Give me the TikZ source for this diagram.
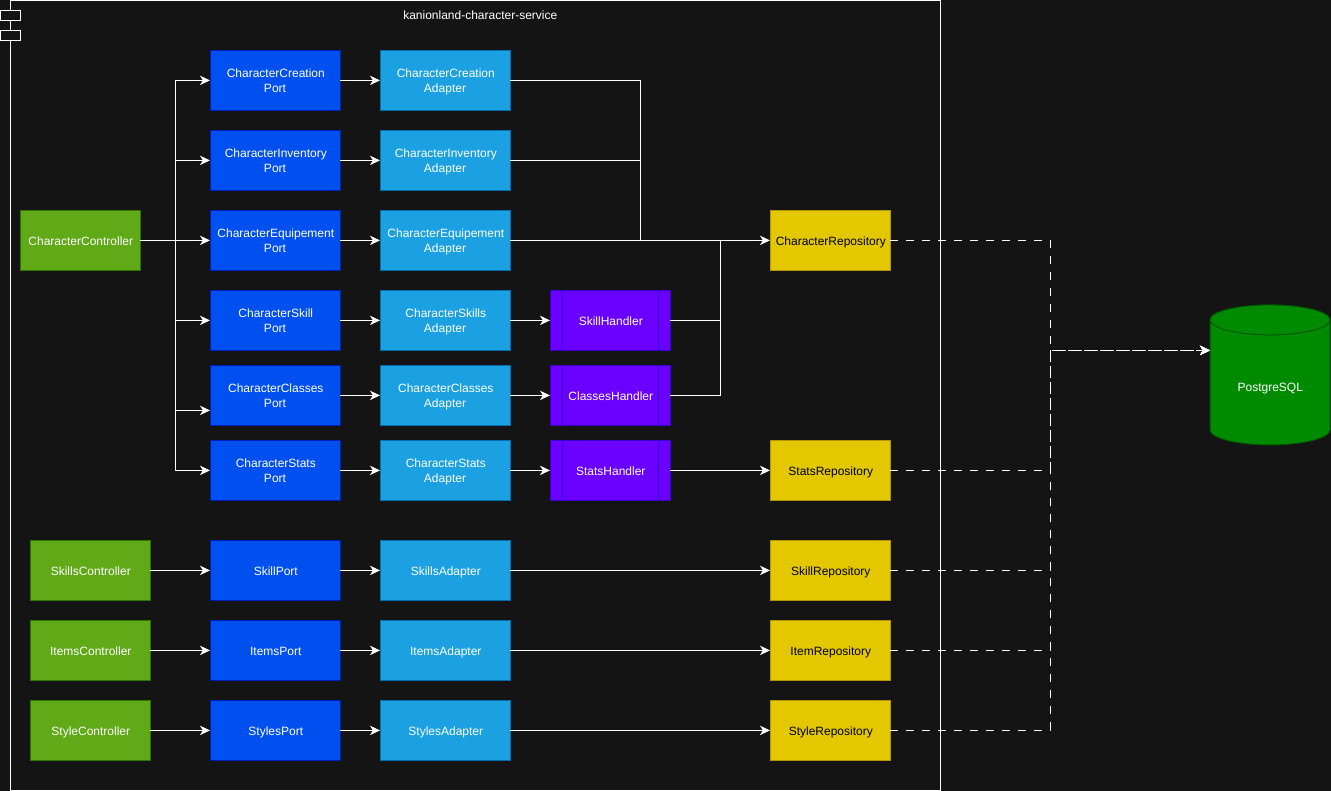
\documentclass[tikz,border=0pt]{standalone}
\usepackage{fontspec}
\setmainfont{Liberation Sans}
\usetikzlibrary{arrows.meta,calc}
\definecolor{bgc}{HTML}{141414}
\definecolor{portf}{HTML}{0050EF}\definecolor{portd}{HTML}{001DBC}
\definecolor{adf}{HTML}{1BA1E2}\definecolor{add}{HTML}{006EAF}
\definecolor{ctf}{HTML}{60A917}\definecolor{ctd}{HTML}{2D7600}
\definecolor{hdf}{HTML}{6A00FF}\definecolor{hdd}{HTML}{3700CC}
\definecolor{rpf}{HTML}{E3C800}\definecolor{rpd}{HTML}{B09500}
\definecolor{dbf}{HTML}{008A00}\definecolor{dbd}{HTML}{005700}
\tikzset{
  boxbase/.style={draw,line width=0.75pt,minimum height=45pt,outer sep=0pt,inner sep=0pt,
    font=\fontsize{9pt}{11.25pt}\selectfont,text=white,
    execute at begin node={\hspace*{1.2pt}\rule{0pt}{9.6pt}},
    execute at end node={\rule[-2pt]{0pt}{2pt}}},
  portbox/.style={boxbase,fill=portf,draw=portd,minimum width=97.5pt},
  adapterbox/.style={boxbase,fill=adf,draw=add,minimum width=97.5pt},
  ctrlbox/.style={boxbase,fill=ctf,draw=ctd,minimum width=90pt},
  handlerbox/.style={boxbase,fill=hdf,draw=hdd,minimum width=90pt},
  repobox/.style={boxbase,fill=rpf,draw=rpd,minimum width=90pt,text=black},
  conn/.style={draw=white,line width=0.75pt,-{Stealth[length=7.5pt,width=7pt,inset=2.2pt]}},
  plainconn/.style={draw=white,line width=0.75pt},
  dashconn/.style={draw=white,line width=0.75pt,dash pattern=on 6pt off 6pt,-{Stealth[length=7.5pt,width=7pt,inset=2.2pt]}},
  tabbox/.style={draw=white,line width=0.75pt,fill=bgc,minimum width=15pt,minimum height=7.5pt,outer sep=0pt,inner sep=0pt}
}
\newcommand{\handlerbars}[1]{\draw[hdd,line width=0.75pt] ($(#1.north west)+(9pt,0)$) -- ($(#1.south west)+(9pt,0)$) ($(#1.north east)+(-9pt,0)$) -- ($(#1.south east)+(-9pt,0)$);}
\newcommand{\twol}[2]{\hspace*{-1.2pt}\raisebox{-3.7pt}[12pt][12pt]{\begin{tabular}{@{}c@{}}\hspace*{1.2pt}#1\\#2\end{tabular}}}
\begin{document}
\begin{tikzpicture}[x=0.75pt,y=-0.75pt]
\useasboundingbox[fill=bgc] (0,-0.4) rectangle (1331,790.6);
% container
\node[draw=white,line width=0.75pt,fill=bgc,minimum width=697.5pt,minimum height=592.1pt,outer sep=0pt,inner sep=0pt] (svc) at (475,395.2) {};
\node[tabbox] (tabA) at (10,15) {};
\node[tabbox] (tabB) at (10,35) {};
\node[text=white,font=\fontsize{9pt}{11.25pt}\selectfont,inner sep=0pt] (title) at (480.3,14.8) {kanionland-character-service};
% controllers
\node[ctrlbox] (cc) at (80,240) {CharacterController};
\node[ctrlbox] (sc) at (90,570) {SkillsController};
\node[ctrlbox] (ic) at (90,650) {ItemsController};
\node[ctrlbox] (stc) at (90,730) {StyleController};
% ports
\node[portbox] (p1) at (275,80) {\twol{CharacterCreation}{Port}};
\node[portbox] (p2) at (275,160) {\twol{CharacterInventory}{Port}};
\node[portbox] (p3) at (275,240) {\twol{CharacterEquipement}{Port}};
\node[portbox] (p4) at (275,320) {\twol{CharacterSkill}{Port}};
\node[portbox] (p5) at (275,395) {\twol{CharacterClasses}{Port}};
\node[portbox] (p6) at (275,470) {\twol{CharacterStats}{Port}};
\node[portbox] (p7) at (275,570) {SkillPort};
\node[portbox] (p8) at (275,650) {ItemsPort};
\node[portbox] (p9) at (275,730) {StylesPort};
% adapters
\node[adapterbox] (a1) at (445,80) {\twol{CharacterCreation}{Adapter}};
\node[adapterbox] (a2) at (445,160) {\twol{CharacterInventory}{Adapter}};
\node[adapterbox] (a3) at (445,240) {\twol{CharacterEquipement}{Adapter}};
\node[adapterbox] (a4) at (445,320) {\twol{CharacterSkills}{Adapter}};
\node[adapterbox] (a5) at (445,395) {\twol{CharacterClasses}{Adapter}};
\node[adapterbox] (a6) at (445,470) {\twol{CharacterStats}{Adapter}};
\node[adapterbox] (a7) at (445,570) {SkillsAdapter};
\node[adapterbox] (a8) at (445,650) {ItemsAdapter};
\node[adapterbox] (a9) at (445,730) {StylesAdapter};
% handlers
\node[handlerbox] (h1) at (610,320) {SkillHandler};
\node[handlerbox] (h2) at (610,395) {ClassesHandler};
\node[handlerbox] (h3) at (610,470) {StatsHandler};
\handlerbars{h1}\handlerbars{h2}\handlerbars{h3}
% repositories
\node[repobox] (r1) at (830,240) {CharacterRepository};
\node[repobox] (r2) at (830,470) {StatsRepository};
\node[repobox] (r3) at (830,570) {SkillRepository};
\node[repobox] (r4) at (830,650) {ItemRepository};
\node[repobox] (r5) at (830,730) {StyleRepository};
% database (y axis points down: 180 to 360 is the upper arc)
\fill[dbf] (1210,319.5) arc[start angle=180,end angle=360,x radius=60,y radius=15] -- (1330,429.5) arc[start angle=0,end angle=180,x radius=60,y radius=15] -- cycle;
\draw[dbd,line width=0.75pt] (1210,319.5) arc[start angle=180,end angle=0,x radius=60,y radius=15] arc[start angle=360,end angle=180,x radius=60,y radius=15] -- (1210,429.5) arc[start angle=180,end angle=0,x radius=60,y radius=15] -- (1330,319.5);
\node[text=white,font=\fontsize{9pt}{11.25pt}\selectfont,inner sep=0pt] (db) at (1270.3,388.3) {PostgreSQL};
% junction coordinates
\coordinate (busL) at (175,240);
\coordinate (p5in) at (210,410);
\coordinate (busA) at (640,240);
\coordinate (busH) at (720,240);
\coordinate (busD) at (1050,350);
\coordinate (dbin) at (1210,350);
% controller -> ports
\draw[conn] (cc.east) -- (p3.west);
\draw[conn] (busL) |- (p1.west);
\draw[conn] (busL) |- (p2.west);
\draw[conn] (busL) |- (p4.west);
\draw[conn] (busL) |- (p5in);
\draw[conn] (busL) |- (p6.west);
\draw[conn] (sc.east) -- (p7.west);
\draw[conn] (ic.east) -- (p8.west);
\draw[conn] (stc.east) -- (p9.west);
% ports -> adapters
\foreach \i in {1,...,9}{\draw[conn] (p\i.east) -- (a\i.west);}
% adapters -> handlers
\draw[conn] (a4.east) -- (h1.west);
\draw[conn] (a5.east) -- (h2.west);
\draw[conn] (a6.east) -- (h3.west);
% into repositories
\draw[conn] (a3.east) -- (r1.west);
\draw[plainconn] (a1.east) -| (busA);
\draw[plainconn] (a2.east) -| (busA);
\draw[plainconn] (h1.east) -| (busH);
\draw[plainconn] (h2.east) -| (busH);
\draw[conn] (h3.east) -- (r2.west);
\draw[conn] (a7.east) -- (r3.west);
\draw[conn] (a8.east) -- (r4.west);
\draw[conn] (a9.east) -- (r5.west);
% dashed to database
\draw[dashconn] (r1.east) -| (busD) -- (dbin);
\draw[dashconn] (r2.east) -| (busD) -- (dbin);
\draw[dashconn] (r3.east) -| (busD) -- (dbin);
\draw[dashconn] (r4.east) -| (busD) -- (dbin);
\draw[dashconn] (r5.east) -| (busD) -- (dbin);
\end{tikzpicture}
\end{document}
